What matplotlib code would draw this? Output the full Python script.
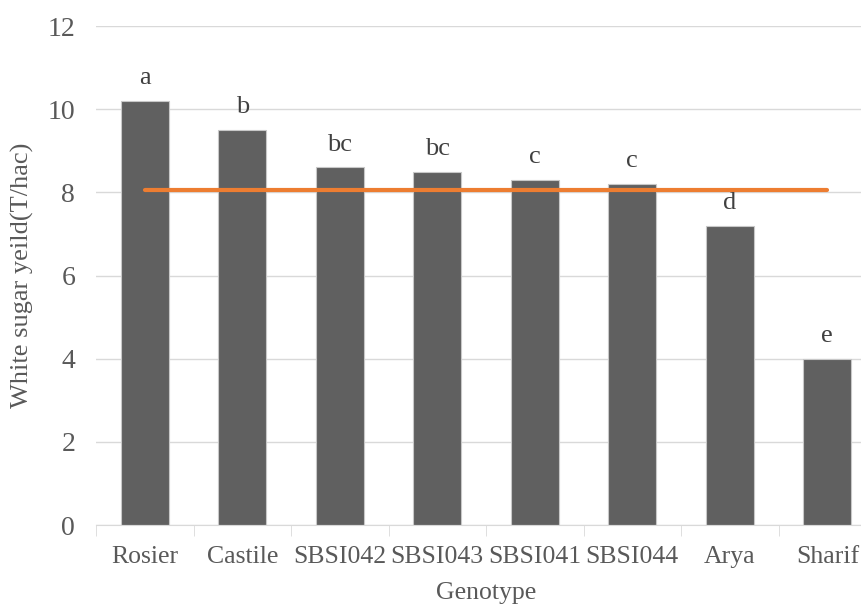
import numpy as np
import matplotlib
matplotlib.use("Agg")
import matplotlib.pyplot as plt

genotypes = ["Rosier", "Castile", "SBSI042", "SBSI043", "SBSI041", "SBSI044", "Arya", "Sharif"]
yield_vals = [10.2, 9.5, 8.6, 8.5, 8.3, 8.2, 7.2, 4.0]
letters = ["a", "b", "bc", "bc", "c", "c", "d", "e"]
mean_val = 8.06

plt.rcParams['font.family'] = ['Liberation Serif', 'DejaVu Serif']

fig = plt.figure(figsize=(8.61, 6.08), dpi=100)
ax = fig.add_axes([0.1115, 0.1365, 0.906, 0.8207])

x = np.arange(len(genotypes))
ax.bar(x, yield_vals, width=0.49, color='#606060', edgecolor='#c8c8c8', linewidth=0.8, zorder=2)
ax.plot([x[0], x[-1]], [mean_val, mean_val], color='#ED7D31', lw=3, solid_capstyle='round', zorder=3)

for xi, v, lab in zip(x, yield_vals, letters):
    ax.annotate(lab, (xi, v), xytext=(0, 12), textcoords='offset points',
                ha='center', va='baseline', fontsize=19, color='#404040')

ax.set_xlim(-0.5, len(genotypes) - 0.5)
ax.set_ylim(0, 12)
ax.set_yticks(np.arange(0, 13, 2))
ax.yaxis.grid(True, color='#d9d9d9', lw=1, zorder=0)
ax.set_axisbelow(True)

ax.set_xticks(x)
ax.set_xticklabels(genotypes)
ax.set_xticks(np.arange(-0.5, len(genotypes)), minor=True)
ax.tick_params(axis='x', which='major', length=0, pad=15, labelsize=18.5, labelcolor='#595959')
ax.tick_params(axis='x', which='minor', length=8, color='#d9d9d9', direction='out')
ax.tick_params(axis='y', length=0, pad=15, labelsize=20, labelcolor='#595959')

for s in ['top', 'right', 'left']:
    ax.spines[s].set_visible(False)
ax.spines['bottom'].set_color('#d9d9d9')

ax.set_xlabel('Genotype', fontsize=18.5, color='#595959', labelpad=10)
ax.set_ylabel('White sugar yeild(T/hac)', fontsize=19, color='#595959', labelpad=10)

fig.savefig('out.png', dpi=100)
